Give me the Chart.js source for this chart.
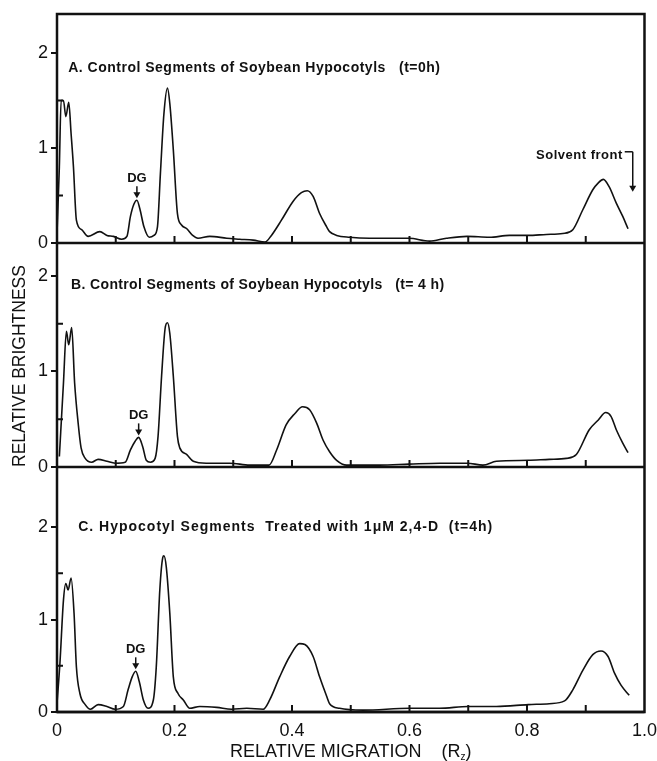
<!DOCTYPE html>
<html>
<head>
<meta charset="utf-8">
<script src="https://cdn.jsdelivr.net/npm/chart.js@4.4.0/dist/chart.umd.min.js"></script>
<style>
html, body { margin: 0; padding: 0; background: #fff; }
#wrap { width: 657px; height: 761px; position: relative; }
</style>
</head>
<body>
<div id="wrap"><canvas id="myChart"></canvas></div>
<script>
// relative migration (Rf) and brightness
const rfA = [0, 0.004, 0.007, 0.011, 0.015, 0.020, 0.024, 0.028, 0.033, 0.042, 0.053, 0.073, 0.085, 0.096, 0.110, 0.119, 0.125, 0.131, 0.136, 0.141, 0.148, 0.157, 0.165, 0.171, 0.176, 0.182, 0.188, 0.192, 0.198, 0.205, 0.212, 0.221, 0.231, 0.240, 0.260, 0.289, 0.311, 0.334, 0.354, 0.365, 0.382, 0.402, 0.416, 0.426, 0.436, 0.447, 0.459, 0.464, 0.476, 0.498, 0.532, 0.599, 0.634, 0.663, 0.698, 0.736, 0.770, 0.802, 0.833, 0.861, 0.878, 0.895, 0.912, 0.921, 0.930, 0.940, 0.952, 0.963, 0.972];
const brightA = [0.10, 0.80, 1.50, 1.50, 1.33, 1.48, 1.15, 0.80, 0.24, 0.14, 0.07, 0.12, 0.08, 0.07, 0.04, 0.07, 0.28, 0.41, 0.45, 0.36, 0.17, 0.06, 0.08, 0.17, 0.73, 1.36, 1.63, 1.47, 0.98, 0.31, 0.19, 0.15, 0.08, 0.05, 0.07, 0.05, 0.04, 0.03, 0.01, 0.08, 0.24, 0.44, 0.53, 0.55, 0.49, 0.31, 0.17, 0.12, 0.08, 0.06, 0.05, 0.05, 0.02, 0.05, 0.07, 0.06, 0.08, 0.08, 0.09, 0.10, 0.14, 0.35, 0.56, 0.63, 0.67, 0.59, 0.42, 0.28, 0.15];

const rfB = [0.004, 0.011, 0.016, 0.020, 0.025, 0.030, 0.036, 0.041, 0.048, 0.059, 0.070, 0.085, 0.099, 0.116, 0.125, 0.133, 0.139, 0.146, 0.152, 0.159, 0.167, 0.172, 0.178, 0.184, 0.188, 0.192, 0.198, 0.205, 0.209, 0.221, 0.232, 0.254, 0.294, 0.328, 0.361, 0.374, 0.390, 0.405, 0.418, 0.430, 0.442, 0.453, 0.464, 0.476, 0.493, 0.549, 0.599, 0.651, 0.698, 0.725, 0.748, 0.802, 0.838, 0.867, 0.884, 0.906, 0.921, 0.934, 0.943, 0.952, 0.963, 0.972];
const brightB = [0.11, 0.88, 1.42, 1.28, 1.46, 0.88, 0.46, 0.20, 0.09, 0.05, 0.08, 0.06, 0.04, 0.05, 0.18, 0.27, 0.31, 0.21, 0.07, 0.05, 0.09, 0.32, 0.95, 1.45, 1.51, 1.40, 0.95, 0.32, 0.20, 0.13, 0.06, 0.04, 0.04, 0.02, 0.02, 0.18, 0.44, 0.56, 0.63, 0.60, 0.46, 0.28, 0.16, 0.07, 0.02, 0.02, 0.03, 0.04, 0.04, 0.02, 0.06, 0.07, 0.08, 0.09, 0.13, 0.39, 0.49, 0.57, 0.53, 0.39, 0.25, 0.15];

const rfC = [0.0, 0.005, 0.011, 0.015, 0.019, 0.024, 0.029, 0.033, 0.039, 0.048, 0.057, 0.070, 0.085, 0.099, 0.113, 0.121, 0.128, 0.134, 0.140, 0.147, 0.155, 0.164, 0.169, 0.175, 0.180, 0.182, 0.186, 0.192, 0.198, 0.206, 0.215, 0.226, 0.243, 0.272, 0.297, 0.323, 0.351, 0.362, 0.379, 0.396, 0.413, 0.422, 0.436, 0.447, 0.459, 0.464, 0.481, 0.521, 0.600, 0.651, 0.700, 0.748, 0.802, 0.838, 0.864, 0.878, 0.895, 0.912, 0.926, 0.938, 0.949, 0.960, 0.974];
const brightC = [0.09, 0.53, 1.21, 1.39, 1.32, 1.45, 1.07, 0.49, 0.20, 0.08, 0.03, 0.08, 0.06, 0.03, 0.06, 0.24, 0.38, 0.44, 0.33, 0.13, 0.04, 0.13, 0.49, 1.32, 1.67, 1.69, 1.57, 1.07, 0.38, 0.20, 0.13, 0.04, 0.06, 0.05, 0.03, 0.04, 0.03, 0.13, 0.38, 0.60, 0.74, 0.73, 0.60, 0.38, 0.17, 0.09, 0.04, 0.02, 0.04, 0.04, 0.06, 0.06, 0.08, 0.09, 0.12, 0.24, 0.45, 0.62, 0.66, 0.60, 0.42, 0.29, 0.18];

const xTicks = [0, 0.2, 0.4, 0.6, 0.8, 1.0];
const xMinorTicks = [0.1, 0.2, 0.3, 0.4, 0.5, 0.6, 0.7, 0.8, 0.9];
const yTickLabels = [0, 1, 2];

const panelTitles = [
    'A. Control Segments of Soybean Hypocotyls   (t=0h)',
    'B. Control Segments of Soybean Hypocotyls   (t= 4 h)',
    'C. Hypocotyl Segments  Treated with 1\u03bcM 2,4-D  (t=4h)'
];
const dgPeakRf = [0.136, 0.139, 0.134];
const dgPeakBright = [0.45, 0.31, 0.44];

const ink = '#111';
const fontFam = '"Liberation Sans", Arial, sans-serif';
Chart.defaults.font.family = fontFam;
Chart.defaults.color = ink;

function pts(xs, ys) {
    return xs.map((x, i) => ({x: x, y: ys[i]}));
}

function arrowDown(ctx, x, y1, y2) {
    ctx.beginPath();
    ctx.moveTo(x, y1);
    ctx.lineTo(x, y2 - 5);
    ctx.stroke();
    ctx.beginPath();
    ctx.moveTo(x - 3.5, y2 - 6);
    ctx.lineTo(x + 3.5, y2 - 6);
    ctx.lineTo(x, y2);
    ctx.closePath();
    ctx.fill();
}

const panels = ['yA', 'yB', 'yC'];

const frame = {
    id: 'frame',
    afterDatasetsDraw(chart) {
        const {ctx, chartArea: a, scales} = chart;
        const x = scales.x;
        ctx.save();
        ctx.strokeStyle = ink;
        ctx.fillStyle = ink;
        ctx.lineWidth = 2.5;
        ctx.strokeRect(a.left, a.top, a.right - a.left, a.bottom - a.top);
        panels.forEach((id, k) => {
            const s = scales[id];
            const y0 = s.getPixelForValue(0);
            ctx.lineWidth = 2.5;
            ctx.beginPath();
            ctx.moveTo(a.left, y0);
            ctx.lineTo(a.right, y0);
            ctx.stroke();
            // inner ticks on the baseline
            ctx.lineWidth = 2;
            ctx.beginPath();
            xMinorTicks.forEach(v => {
                const px = x.getPixelForValue(v);
                ctx.moveTo(px, y0);
                ctx.lineTo(px, y0 - 7);
            });
            [0.5, 1.5].forEach(v => {
                const py = s.getPixelForValue(v);
                ctx.moveTo(a.left, py);
                ctx.lineTo(a.left + 6, py);
            });
            ctx.stroke();

            // panel title
            ctx.font = 'bold 14px ' + fontFam;
            ctx.letterSpacing = ['0.5px', '0.35px', '1px'][k];
            ctx.textAlign = 'left';
            ctx.textBaseline = 'middle';
            const ty = s.getPixelForValue([1.84, 1.90, 2.0][k]);
            const tx = x.getPixelForValue([0.019, 0.024, 0.036][k]);
            ctx.fillText(panelTitles[k], tx, ty);
            ctx.letterSpacing = '0px';

            // DG marker
            const dx = x.getPixelForValue(dgPeakRf[k]);
            const dy = s.getPixelForValue(dgPeakBright[k]) - 2;
            ctx.lineWidth = 1.5;
            arrowDown(ctx, dx, dy - 12, dy);
            ctx.textAlign = 'center';
            ctx.font = 'bold 13px ' + fontFam;
            ctx.fillText('DG', dx, dy - 20);
        });

        // solvent front
        const sA = scales.yA;
        const fx = x.getPixelForValue(0.98);
        const fy = sA.getPixelForValue(0.96);
        ctx.font = 'bold 13px ' + fontFam;
        ctx.letterSpacing = '0.5px';
        ctx.textAlign = 'right';
        ctx.textBaseline = 'middle';
        ctx.fillText('Solvent front', fx - 10, fy + 4);
        ctx.letterSpacing = '0px';
        ctx.lineWidth = 1.5;
        ctx.beginPath();
        ctx.moveTo(fx - 8, fy);
        ctx.lineTo(fx, fy);
        ctx.stroke();
        arrowDown(ctx, fx, fy, sA.getPixelForValue(0.54));

        // x title with subscript
        ctx.font = '18px ' + fontFam;
        ctx.textAlign = 'left';
        ctx.textBaseline = 'alphabetic';
        const t1 = 'RELATIVE MIGRATION    (R';
        const w1 = ctx.measureText(t1).width;
        ctx.font = '10px ' + fontFam;
        const w2 = ctx.measureText('z').width;
        ctx.font = '18px ' + fontFam;
        const w3 = ctx.measureText(')').width;
        const total = w1 + w2 + w3;
        const sx = (a.left + a.right) / 2 - total / 2;
        const by = 757;
        ctx.fillText(t1, sx, by);
        ctx.font = '10px ' + fontFam;
        ctx.fillText('z', sx + w1, by + 3);
        ctx.font = '18px ' + fontFam;
        ctx.fillText(')', sx + w1 + w2, by);
        ctx.restore();
    }
};

function yAxis(maxV, weight, withTitle) {
    return {
        type: 'linear',
        position: 'left',
        stack: 'panels',
        stackWeight: weight,
        min: 0,
        max: maxV,
        border: {display: false},
        grid: {drawOnChartArea: false, tickLength: 6, color: ink, lineWidth: 2},
        ticks: {
            stepSize: 1,
            includeBounds: false,
            padding: 3,
            font: {size: 18},
            color: ink,
            callback: v => yTickLabels.includes(v) ? String(v) : ''
        },
        title: {
            display: withTitle,
            text: 'RELATIVE BRIGHTNESS',
            align: 'start',
            font: {size: 17.5},
            color: ink,
            padding: {top: 10, bottom: 0}
        },
        afterFit: s => { s.width = 57; }
    };
}

new Chart(document.getElementById('myChart'), {
    type: 'line',
    data: {
        datasets: [
            {data: pts(rfA, brightA), yAxisID: 'yA'},
            {data: pts(rfB, brightB), yAxisID: 'yB'},
            {data: pts(rfC, brightC), yAxisID: 'yC'}
        ].map(d => Object.assign(d, {
            borderColor: ink,
            borderWidth: 1.6,
            pointRadius: 0,
            fill: false,
            cubicInterpolationMode: 'monotone'
        }))
    },
    options: {
        responsive: true,
        maintainAspectRatio: false,
        animation: false,
        layout: {padding: {top: 14, right: 12, left: 0, bottom: 0}},
        plugins: {legend: {display: false}, tooltip: {enabled: false}},
        scales: {
            x: {
                type: 'linear',
                position: 'bottom',
                min: 0,
                max: 1,
                grid: {display: false},
                border: {display: false},
                afterBuildTicks: s => { s.ticks = xTicks.map(v => ({value: v})); },
                ticks: {
                    padding: 0,
                    font: {size: 18},
                    color: ink,
                    callback: v => v === 0 ? '0' : v.toFixed(1)
                },
                afterFit: s => { s.height = 49; }
            },
            // stacked bottom-up: last listed sits on top
            yC: yAxis(2.65, 245, false),
            yB: yAxis(2.345, 224, true),
            yA: yAxis(2.41, 229, false)
        }
    },
    plugins: [frame]
});
</script>
</body>
</html>
